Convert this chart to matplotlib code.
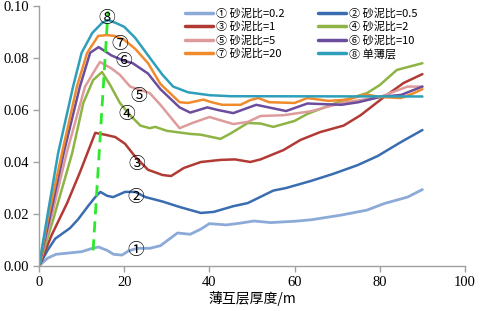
import matplotlib
matplotlib.use("Agg")
import matplotlib.pyplot as plt

# 各砂泥比曲线 (横坐标: 薄互层厚度/m)
x1 = [0, 2, 4, 7, 10, 12.5, 14, 16, 17.5, 19.5, 21, 23, 26, 28.5, 32.5, 35.5, 38, 40, 44, 47.3, 50.4, 54.4, 60, 64, 71, 77, 81, 86.5, 90]
y1 = [0, 0.003, 0.0045, 0.005, 0.0055, 0.0068, 0.0073, 0.006, 0.0045, 0.0042, 0.0058, 0.0068, 0.0068, 0.0078, 0.0127, 0.0122, 0.0142, 0.0163, 0.0158, 0.0165, 0.0173, 0.0167, 0.0172, 0.0178, 0.0196, 0.0215, 0.024, 0.0265, 0.0294]

x2 = [0, 2, 3.8, 7.3, 9.2, 11.5, 13.2, 14.4, 16, 17.4, 20.2, 22.6, 25, 29, 33, 38, 41, 45.6, 49, 55, 58, 63.8, 69, 74.8, 79.5, 85, 90]
y2 = [0, 0.006, 0.0105, 0.0146, 0.018, 0.023, 0.0265, 0.0285, 0.027, 0.0265, 0.0285, 0.0285, 0.0265, 0.0248, 0.0227, 0.0204, 0.0208, 0.023, 0.0242, 0.029, 0.030, 0.0327, 0.0354, 0.0388, 0.0423, 0.0477, 0.0523]

x3 = [0, 3, 6.6, 9.6, 13.2, 15.5, 17.9, 20.2, 22.6, 25.6, 29, 31, 34, 38, 42.6, 46, 49.6, 52, 57.4, 61.4, 66, 71.5, 75.5, 81, 85.6, 90]
y3 = [0, 0.012, 0.0242, 0.036, 0.0512, 0.0505, 0.0496, 0.047, 0.042, 0.037, 0.035, 0.0346, 0.0377, 0.040, 0.0408, 0.041, 0.040, 0.041, 0.0446, 0.0485, 0.0515, 0.054, 0.058, 0.065, 0.0704, 0.0738]

x4 = [0, 3.3, 7.8, 10.4, 12.7, 14.8, 16.7, 19, 21.4, 23.8, 26, 27.3, 30, 35.5, 38, 42.6, 45, 49, 52, 55, 60, 63, 71, 77, 80, 84, 90]
y4 = [0, 0.0177, 0.0435, 0.0627, 0.0715, 0.0746, 0.0696, 0.0627, 0.058, 0.054, 0.053, 0.0535, 0.052, 0.0508, 0.0505, 0.0489, 0.051, 0.055, 0.0548, 0.0535, 0.0558, 0.0585, 0.0635, 0.0665, 0.0696, 0.0754, 0.078]

x5 = [0, 2.5, 6.5, 10.8, 14.3, 17, 19, 21.4, 26, 28.5, 33, 36, 40, 45.6, 49, 52, 57.4, 63.8, 71, 80, 86.5, 90]
y5 = [0, 0.016, 0.0435, 0.069, 0.0785, 0.076, 0.0735, 0.069, 0.0665, 0.062, 0.053, 0.055, 0.0573, 0.0546, 0.0554, 0.0577, 0.058, 0.0595, 0.0627, 0.065, 0.069, 0.069]

x6 = [0, 2.3, 5.8, 9.6, 12, 14, 17, 19.8, 22, 25.6, 28.5, 33, 35.5, 39.5, 42, 45.6, 51, 58, 63, 71, 75, 80, 85, 90]
y6 = [0, 0.017, 0.0435, 0.069, 0.082, 0.0842, 0.081, 0.079, 0.078, 0.074, 0.068, 0.061, 0.059, 0.061, 0.060, 0.0588, 0.062, 0.0596, 0.0625, 0.062, 0.063, 0.065, 0.0658, 0.069]

x7 = [0, 2, 5.4, 8.9, 11.3, 13.9, 16, 17.7, 20, 22.6, 25.6, 28.5, 33, 35, 38.6, 40.5, 43, 47.3, 49.6, 51.5, 54, 60, 63, 68, 72.5, 76.7, 80, 85, 88, 90]
y7 = [0, 0.0175, 0.0435, 0.069, 0.082, 0.0885, 0.0888, 0.0885, 0.087, 0.0835, 0.078, 0.070, 0.063, 0.0627, 0.064, 0.063, 0.062, 0.062, 0.0638, 0.0646, 0.063, 0.0627, 0.0646, 0.0635, 0.064, 0.066, 0.065, 0.0646, 0.0665, 0.068]

x8 = [0, 1.8, 4.5, 8, 10, 12.5, 14.8, 16.2, 18, 20, 22.6, 25.6, 29, 31.5, 35, 40, 45, 90]
y8 = [0, 0.0177, 0.0435, 0.069, 0.082, 0.0896, 0.0935, 0.0946, 0.0935, 0.092, 0.0877, 0.081, 0.0735, 0.069, 0.0668, 0.0657, 0.0653, 0.0652]

labels = ["① 砂泥比=0.2", "② 砂泥比=0.5", "③ 砂泥比=1", "④ 砂泥比=2",
          "⑤ 砂泥比=5", "⑥ 砂泥比=10", "⑦ 砂泥比=20", "⑧ 单薄层"]
colors = ["#8caad8", "#3a6db0", "#b13a35", "#8db444",
          "#dd9c9b", "#6c4c9c", "#ef8b2c", "#2e9fba"]

# 峰值连线 (绿色虚线)
peak_x = [12.7, 16.2]
peak_y = [0.006, 0.098]

# 曲线编号标注位置
tag_text = ["①", "②", "③", "④", "⑤", "⑥", "⑦", "⑧"]
tag_x = [22.8, 22.8, 23.0, 20.7, 23.3, 20.0, 18.9, 16.0]
tag_y = [0.006, 0.0265, 0.039, 0.0584, 0.065, 0.0788, 0.0853, 0.095]

# 刻度数字用衬线字体
plt.rcParams["font.family"] = "serif"
plt.rcParams["font.serif"] = ["Liberation Serif", "DejaVu Serif"]
cjk = ["Noto Sans CJK SC", "DejaVu Sans"]

fig = plt.figure(figsize=(4.81, 3.11), dpi=100)
ax = fig.add_axes([39 / 481, 45 / 311, 426 / 481, 260 / 311])

xs = [x1, x2, x3, x4, x5, x6, x7, x8]
ys = [y1, y2, y3, y4, y5, y6, y7, y8]
lines = []
for i in range(8):
    ln, = ax.plot(xs[i], ys[i], color=colors[i], lw=2.0 if i == 0 else 1.8,
                  label=labels[i], solid_capstyle="round", solid_joinstyle="round")
    lines.append(ln)

ax.plot(peak_x, peak_y, color="#2ee82e", lw=2, dashes=(4, 2.5), zorder=5)

for t, tx, ty in zip(tag_text, tag_x, tag_y):
    ax.text(tx, ty, t, fontsize=12, family=cjk, ha="center", va="center",
            color="black", zorder=6)

ax.set_xlim(0, 100)
ax.set_ylim(0, 0.10)
ax.set_xticks([0, 20, 40, 60, 80, 100])
ax.set_yticks([0, 0.02, 0.04, 0.06, 0.08, 0.10])
ax.set_yticklabels(["0.00", "0.02", "0.04", "0.06", "0.08", "0.10"])

for s in ["top", "right"]:
    ax.spines[s].set_visible(False)
for s in ["left", "bottom"]:
    ax.spines[s].set_color("#a0a0a0")
    ax.spines[s].set_linewidth(1)
ax.tick_params(direction="out", length=4, width=1, color="#a0a0a0", pad=3,
               labelsize=10.5)

ax.set_xlabel("薄互层厚度/m", family=cjk, fontsize=10, labelpad=2)

# 图例: 两列, 按行排列
order = [0, 2, 4, 6, 1, 3, 5, 7]
leg = fig.legend([lines[i] for i in order], [labels[i] for i in order],
                 ncol=2, loc="upper left", bbox_to_anchor=(185 / 481, 1 - 8 / 311),
                 bbox_transform=fig.transFigure, frameon=False,
                 prop={"family": cjk, "size": 8},
                 handlelength=2.5, handletextpad=0.3, columnspacing=3.0,
                 labelspacing=0.25, borderpad=0, borderaxespad=0)
for l in leg.get_lines():
    l.set_linewidth(2.5)

fig.savefig("out.png", dpi=100)
